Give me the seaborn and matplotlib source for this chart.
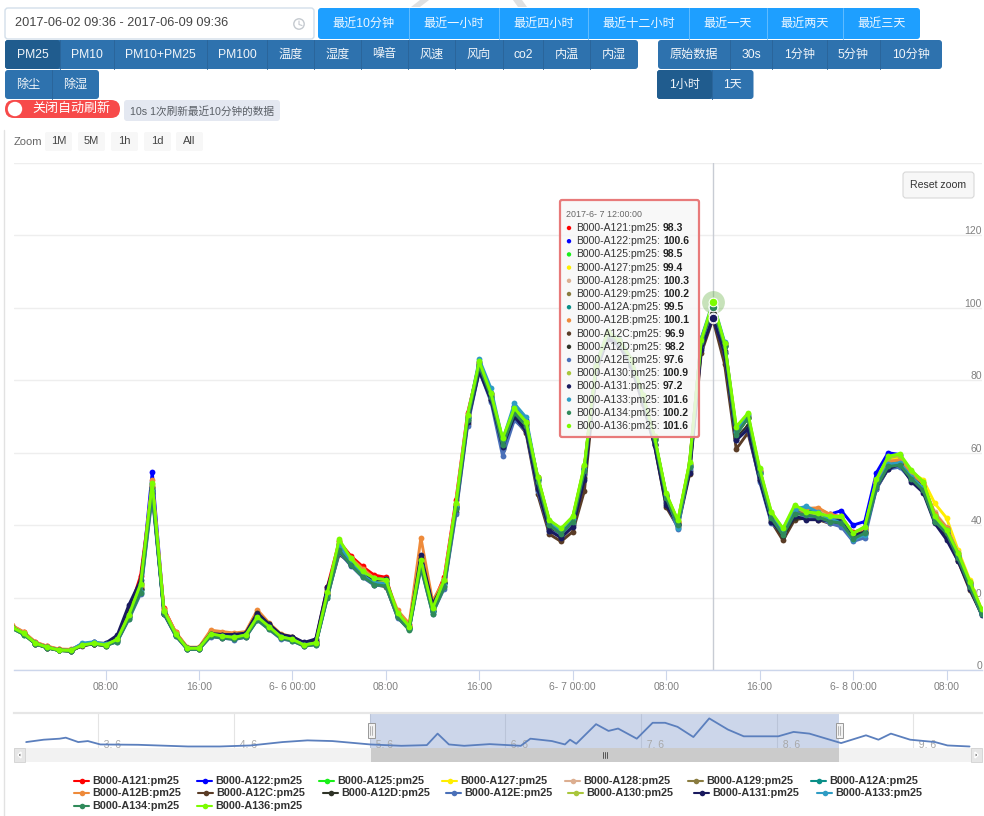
import numpy as np
import pandas as pd
import seaborn as sns
import matplotlib
matplotlib.use("Agg")
import matplotlib.pyplot as plt
from matplotlib.patches import FancyBboxPatch, Rectangle, Circle, Polygon
from matplotlib.lines import Line2D
from matplotlib.transforms import ScaledTranslation

# ------------------------- data -------------------------
A121 = [12.2,10.4,7.6,6.5,5.7,5.6,7.0,7.3,7.2,9.0,16.0,26.0,50.5,17.0,10.4,6.2,6.2,10.4,9.8,9.4,9.9,15.2,12.4,9.5,8.8,7.2,8.0,23.0,35.5,31.5,28.6,26.2,25.6,15.2,12.4,31.5,18.0,25.8,47.0,71.0,84.5,76.0,63.0,71.5,68.0,53.0,40.6,38.0,41.2,56.0,83.5,92.5,90.0,85.0,75.0,64.0,48.0,40.8,56.5,90.0,98.3,89.5,65.5,69.5,55.0,43.0,38.2,43.5,44.5,43.0,42.0,41.5,38.0,39.0,51.0,57.0,57.5,54.5,51.5,42.5,38.5,31.5,24.0,16.5]
A122 = [11.6,10.0,7.5,6.4,5.6,5.5,7.2,7.6,7.0,8.6,15.5,22.5,54.8,16.2,9.8,6.0,6.0,9.6,9.2,8.8,9.5,14.4,11.8,9.0,8.4,7.0,7.4,21.0,34.0,30.0,26.8,24.8,24.2,15.0,11.8,29.5,16.2,24.0,45.0,70.0,85.0,76.5,62.5,73.0,69.0,52.5,40.0,38.0,41.5,55.5,84.0,93.0,91.0,85.5,75.5,64.0,48.0,40.0,56.0,91.5,100.6,90.0,65.0,70.0,54.5,42.5,38.0,44.0,44.0,43.2,43.0,44.0,40.0,41.0,54.5,60.0,59.5,54.0,50.5,42.0,38.0,31.5,24.0,16.2]
A125 = [11.5,9.8,7.2,6.1,5.4,5.2,6.8,7.2,6.7,8.0,14.5,22.0,50.0,15.8,9.6,5.8,5.8,9.6,9.0,8.8,9.4,14.0,11.6,9.0,8.2,6.8,7.2,20.5,34.5,29.8,26.5,24.4,24.0,15.0,11.6,29.0,16.4,24.0,45.5,69.5,84.0,75.5,62.5,71.5,68.0,52.5,40.5,38.2,41.5,55.5,83.0,92.0,90.0,84.5,75.0,63.5,48.0,40.5,56.5,89.5,98.5,89.5,65.5,69.5,54.5,42.5,38.0,43.5,43.0,42.5,41.5,41.5,37.0,38.5,51.5,57.5,58.0,53.5,49.5,41.0,38.0,31.5,23.5,15.8]
A127 = [11.9,10.2,7.4,6.3,5.6,5.4,7.0,7.4,6.9,8.4,15.0,23.0,50.8,16.3,10.0,6.1,6.1,10.0,9.4,9.0,9.6,14.6,12.0,9.3,8.5,6.9,7.5,21.2,35.0,30.5,27.0,25.0,24.6,15.4,12.0,30.0,16.8,24.6,45.8,70.0,84.5,76.0,63.0,71.5,68.2,53.0,41.0,38.6,42.0,56.0,84.0,92.5,90.5,85.0,75.5,64.0,48.5,41.0,57.0,90.5,99.4,90.0,66.0,70.0,55.0,43.2,38.8,44.5,44.0,43.5,42.5,42.0,37.5,39.0,52.0,58.0,58.5,54.5,52.5,46.0,42.0,33.0,24.8,16.8]
A128 = [12.0,10.3,7.5,6.4,5.6,5.5,6.9,7.5,7.0,8.6,15.4,23.5,51.0,16.6,10.2,6.1,6.1,10.3,9.7,9.2,9.8,15.0,12.2,9.4,8.6,7.0,7.6,21.4,34.8,30.6,27.4,25.4,25.0,15.4,12.1,30.5,17.2,24.8,45.8,70.5,84.8,76.2,63.2,72.0,68.4,53.2,41.0,38.4,41.8,56.0,84.5,93.0,91.0,85.5,75.5,64.0,48.4,41.0,57.0,91.0,100.3,90.0,66.0,70.0,55.0,43.0,38.0,44.5,44.5,44.5,43.0,42.0,37.5,38.8,51.5,57.5,58.0,54.5,51.0,43.5,39.5,32.5,24.2,16.5]
A129 = [11.7,10.0,7.3,6.2,5.5,5.3,6.8,7.3,6.8,8.4,15.0,23.0,50.5,16.0,9.9,6.0,6.0,9.8,9.2,8.9,9.5,14.5,11.8,9.1,8.4,6.9,7.4,21.0,34.0,30.0,26.8,24.8,24.4,15.2,11.8,29.8,16.8,24.2,45.2,69.8,84.2,75.6,62.8,71.2,67.8,52.6,40.4,38.0,41.4,55.4,83.5,92.5,90.5,85.0,75.0,63.8,48.0,40.6,56.4,90.8,100.2,89.8,65.5,69.5,54.8,42.6,37.6,43.5,43.5,43.0,42.2,41.8,37.2,38.6,51.4,57.0,57.6,54.0,51.2,43.0,39.2,32.0,24.0,16.2]
A12A = [11.8,10.1,7.4,6.3,5.5,5.4,7.1,7.5,6.9,8.3,14.8,22.4,50.2,16.1,9.9,5.9,5.9,9.8,9.3,8.9,9.5,14.3,11.8,9.1,8.3,6.8,7.3,20.8,34.8,29.8,26.4,24.2,24.0,15.0,11.6,29.2,16.4,24.0,45.0,69.6,84.6,76.2,62.6,72.6,68.6,52.8,40.6,38.2,41.6,55.8,84.0,92.8,90.6,85.2,75.2,63.8,48.2,40.2,56.2,90.4,99.5,89.6,65.2,69.8,54.6,42.4,37.8,44.0,44.5,43.2,42.0,41.2,36.6,38.2,51.0,56.6,57.0,53.4,50.6,42.4,38.6,31.6,23.6,15.8]
A12B = [12.3,10.5,7.7,6.6,5.8,5.7,7.0,7.6,7.3,8.8,15.6,23.4,52.5,16.8,10.5,6.3,6.3,11.0,10.6,10.2,10.6,16.6,13.0,10.0,9.2,7.4,7.8,21.8,34.8,31.0,28.0,25.4,24.8,16.5,12.8,36.5,19.0,25.0,45.5,70.2,84.8,76.2,63.2,72.2,68.6,53.2,41.0,38.6,42.0,56.2,84.4,93.0,91.0,85.5,75.5,64.0,48.4,41.0,57.0,91.2,100.1,90.2,66.0,70.2,55.0,43.0,38.4,45.0,44.6,44.8,43.0,42.4,37.6,39.0,52.0,57.6,58.0,54.4,51.4,43.0,39.2,32.2,24.2,16.4]
A12C = [11.6,9.9,7.2,6.1,5.4,5.2,6.7,7.2,6.6,8.2,14.6,22.4,49.8,15.8,9.6,5.8,5.7,9.4,8.9,8.6,9.2,14.2,11.6,8.8,8.2,6.6,7.2,20.6,32.0,29.4,26.0,23.6,23.0,14.6,11.2,29.4,16.2,23.2,43.5,68.0,83.0,74.5,61.0,69.5,65.5,48.5,37.5,35.5,38.2,49.5,82.5,92.0,89.5,84.0,73.5,62.0,45.0,39.5,54.0,87.5,96.9,84.5,61.0,65.5,52.5,41.0,35.8,41.5,42.0,41.5,40.5,40.5,36.8,37.5,50.0,55.5,56.5,52.5,50.0,41.5,37.0,30.0,22.0,15.5]
A12D = [11.7,10.0,7.3,6.2,5.4,5.3,6.8,7.2,7.3,9.0,16.5,24.0,49.0,15.6,9.8,6.0,6.0,10.0,9.8,9.6,10.0,15.8,12.6,9.8,9.0,7.2,8.0,22.5,33.5,29.5,26.8,25.2,25.0,15.2,11.8,31.0,17.8,24.2,45.0,69.0,83.0,74.8,61.5,70.0,66.5,50.5,39.0,36.8,40.0,53.0,83.0,92.0,90.0,84.5,74.5,62.5,46.0,40.0,55.0,89.0,98.2,88.0,64.0,67.5,53.0,41.5,37.0,42.0,42.0,41.8,41.0,40.8,37.5,38.0,51.0,56.0,57.0,53.0,50.5,41.0,36.5,30.5,22.8,15.8]
A12E = [11.5,9.9,7.3,6.2,5.4,5.3,7.2,7.6,6.8,7.8,14.0,21.0,48.0,15.4,9.4,5.7,5.7,9.2,8.8,8.4,9.0,13.8,11.2,8.6,8.0,6.6,7.0,20.0,32.5,28.8,25.6,23.4,23.2,14.4,11.2,28.5,15.6,22.5,43.0,67.5,82.5,74.0,59.0,69.0,66.0,49.5,38.5,37.0,40.5,54.0,83.0,91.5,89.5,84.0,74.0,62.5,46.5,39.0,55.5,89.5,97.6,87.5,63.5,66.5,52.0,40.5,38.0,44.0,42.0,42.0,40.5,39.5,35.5,36.5,50.0,55.5,56.0,52.5,49.5,41.0,38.0,31.0,23.0,15.5]
A130 = [12.0,10.2,7.4,6.3,5.6,5.4,6.9,7.4,6.9,8.5,15.2,23.6,51.4,16.4,10.0,6.0,6.0,10.0,9.4,9.0,9.7,14.8,12.0,9.2,8.5,6.9,7.5,21.4,35.6,30.6,27.0,25.0,24.6,15.6,12.0,30.4,17.0,24.6,45.8,70.2,85.0,76.2,63.8,72.0,68.4,53.2,41.2,39.0,42.2,56.4,84.5,93.2,91.0,85.5,75.8,64.2,48.6,41.2,57.2,91.2,100.9,90.2,67.0,70.6,55.5,43.5,39.0,45.0,43.5,43.0,42.2,42.2,37.6,39.4,52.4,58.6,59.2,55.0,51.8,42.2,38.5,32.0,24.2,16.6]
A131 = [11.8,10.0,7.4,6.3,5.5,5.4,6.8,7.3,7.4,9.6,18.0,24.8,49.5,15.6,9.8,6.1,6.1,10.0,9.8,9.8,10.2,15.6,12.6,9.8,9.2,7.6,8.6,23.0,33.0,29.0,26.4,25.0,25.0,15.0,11.6,31.8,18.2,24.0,44.5,68.5,82.5,74.5,61.5,70.0,66.0,50.0,38.5,36.5,39.5,52.5,82.5,91.5,89.5,84.0,74.0,62.0,45.5,40.2,54.5,88.5,97.2,87.5,63.5,66.5,52.5,41.0,37.5,42.5,41.5,41.5,41.2,41.2,37.2,37.8,50.5,55.5,56.8,52.0,49.0,40.5,36.0,30.0,22.5,15.2]
A133 = [11.6,10.0,7.4,6.3,5.5,5.4,7.4,7.8,7.2,8.2,14.6,21.6,49.5,16.0,9.8,6.0,6.0,9.8,9.4,9.0,9.6,14.2,11.8,9.2,8.4,7.0,7.4,20.4,34.5,29.6,26.2,24.0,23.8,14.8,11.4,28.8,16.0,23.5,45.0,70.0,85.8,77.8,63.5,73.6,69.8,53.0,40.6,38.4,41.8,55.6,84.5,93.5,91.5,86.0,76.0,64.2,48.4,39.2,56.6,91.6,101.6,90.6,65.8,70.4,54.4,42.2,38.2,44.4,45.2,43.6,41.8,40.6,35.8,37.4,50.8,56.8,57.2,53.2,50.2,42.0,38.6,31.6,23.4,15.4]
A134 = [11.5,9.8,7.2,6.1,5.4,5.2,6.9,7.2,6.7,7.8,14.2,21.4,48.8,15.6,9.5,5.7,5.7,9.3,8.8,8.5,9.1,13.8,11.2,8.8,8.0,6.6,7.0,20.0,33.0,29.0,25.8,23.6,23.2,14.6,11.0,28.2,15.6,22.8,44.5,69.0,84.0,75.5,62.0,71.0,67.5,52.0,40.0,37.6,41.0,55.0,83.5,92.5,90.5,85.0,75.0,63.5,47.5,40.0,56.0,90.5,100.2,89.5,65.0,69.5,54.2,42.0,37.2,43.2,42.8,42.2,41.0,40.6,36.2,37.8,50.5,56.2,56.6,52.8,49.6,41.0,37.8,30.8,23.0,15.4]
A136 = [11.8,10.1,7.4,6.3,5.5,5.4,6.9,7.4,6.9,8.5,15.2,23.8,51.6,16.4,10.0,6.0,6.0,10.0,9.4,9.0,9.7,14.7,12.0,9.2,8.5,6.9,7.5,21.5,36.1,30.8,27.2,25.3,24.9,15.8,12.0,30.4,17.0,24.9,46.0,70.4,85.2,76.4,64.0,72.3,68.6,53.4,41.4,39.1,42.4,56.6,84.0,93.5,91.0,86.0,76.0,64.5,48.8,41.3,57.3,91.0,101.6,90.2,67.2,70.9,55.7,43.7,39.1,45.6,43.7,43.3,42.4,42.4,37.8,39.6,52.7,59.0,59.7,55.2,52.0,42.4,38.7,32.2,24.4,16.8]

series_ids = ["A121","A122","A125","A127","A128","A129","A12A","A12B","A12C","A12D","A12E","A130","A131","A133","A134","A136"]
series_values = [A121,A122,A125,A127,A128,A129,A12A,A12B,A12C,A12D,A12E,A130,A131,A133,A134,A136]
series_colors = ["#ff0000","#0000ff","#18f018","#ffee00","#dcae90","#8a7c40","#0a8f88","#ee8a3a","#5a3c26","#2f3327","#4a70b8","#a9c63c","#191a5e","#2e9cc4","#2f8a5a","#7cfc00"]
tooltip_values = ["98.3","100.6","98.5","99.4","100.3","100.2","99.5","100.1","96.9","98.2","97.6","100.9","97.2","101.6","100.2","101.6"]
x_tick_hours = [8,16,24,32,40,48,56,64,72,80]
x_tick_labels = ["08:00","16:00","6- 6 00:00","08:00","16:00","6- 7 00:00","08:00","16:00","6- 8 00:00","08:00"]
y_ticks = [0,20,40,60,80,100,120,140]

nav_hours = [11.3,14.4,17.2,18.3,20.5,22.2,24.4,31.1,39.9,45.5,51,56.6,61,65.4,72.1,77.6,82.1,84,86,88.7,93.2,98.7,100.4,104.2,106.5,107.4,108.5,112,114.2,115.9,119.2,122,124.2,126.4,129.2,132,135.3,138.1,144.2,146.9,149.7,155.3,159.7,161.9,164.1,167.5,171.9,174.1,178]
nav_values = [20,28,31.4,34.8,20,23.4,12,10.8,5.1,5.1,8.6,20,25.7,23.4,12,7.4,9.7,48.5,12,7.4,13.1,7.4,31.4,23.4,12,28,14.3,80.4,57.6,65.6,31.4,85,85,71.3,37,99.8,62.2,39.4,39.4,54.2,48.5,16.6,42.8,28,48.5,28,20,8.6,5.1]
nav_tick_hours = [24,48,72,96,120,144,168]
nav_tick_labels = ["3. 6","4. 6","5. 6","6. 6","7. 6","8. 6","9. 6"]

row1_labels = ["最近10分钟","最近一小时","最近四小时","最近十二小时","最近一天","最近两天","最近三天"]
row1_edges = [318,409,499,588,689,766.5,843,920]
row2_labels = ["PM25","PM10","PM10+PM25","PM100","温度","湿度","噪音","风速","风向","co2","内温","内湿"]
row2_edges = [5,60,114,207,267,314,361,408,455,503,543,590,638]
row3_labels = ["除尘","除湿"]
row3_edges = [5,52,99]
row4_labels = ["原始数据","30s","1分钟","5分钟","10分钟"]
row4_edges = [658,730,772,827,880,942]
row5_labels = ["1小时","1天"]
row5_edges = [657,712,753.5]
zoom_labels = ["1M","5M","1h","1d","All"]
zoom_edges = [(45,72),(78,105),(111,138),(144,171),(176,203)]

legend_rows = [(781,[92,215,337,460,583,706,829],series_ids[:7]),
               (793,[92,216,341,464,586,712,835],series_ids[7:14]),
               (806,[92,215],series_ids[14:])]

# ------------------------- figure -------------------------
sns.set_theme(style="white")
plt.rcParams['font.family'] = ['Liberation Sans','Noto Sans CJK SC','DejaVu Sans']
W,H = 984,816
fig = plt.figure(figsize=(W/100,H/100),dpi=100,facecolor='white')

def axes_px(x0,y0,x1,y1,**kw):
    return fig.add_axes([x0/W,1-y1/H,(x1-x0)/W,(y1-y0)/H],**kw)

# main chart
ax = axes_px(14,163,982,670)
df = pd.DataFrame([{"hour":h,"pm25":v,"series":s}
                   for s,vals in zip(series_ids,series_values) for h,v in enumerate(vals)])
ax.axvline(60,color="#c8ccd4",lw=1,zorder=1)
sns.lineplot(data=df,x="hour",y="pm25",hue="series",hue_order=series_ids,
             palette=dict(zip(series_ids,series_colors)),marker="o",markersize=4.2,
             markeredgewidth=0,linewidth=2.1,legend=False,errorbar=None,ax=ax,zorder=3)
for line in ax.get_lines():
    line.set_solid_joinstyle("round")
for s,vals,c in zip(series_ids,series_values,series_colors):
    if s == "A136":
        ax.scatter([60],[vals[60]],s=270,color="#5fae3a",alpha=0.35,linewidths=0,zorder=5)
    ax.scatter([60],[vals[60]],s=38,color=c,edgecolors="white",linewidths=0.7,zorder=6)
ax.set_xlim((14-12.1)/11.68,(982-12.1)/11.68)
ax.set_ylim(0,140)
ax.set_xlabel(""); ax.set_ylabel("")
ax.set_xticks(x_tick_hours); ax.set_xticklabels(x_tick_labels)
ax.set_yticks(y_ticks)
ax.set_yticklabels(["0","20","40","60","80","100","120",""])
ax.grid(True,axis='y',color="#eeeeee",lw=1)
ax.grid(False,axis='x')
ax.set_axisbelow(True)
for sp in ("top","left","right"):
    ax.spines[sp].set_visible(False)
ax.spines["bottom"].set_color("#ccd6eb"); ax.spines["bottom"].set_linewidth(1)
ax.tick_params(axis='x',length=7,width=0.8,color="#ccd6eb",labelsize=7.5,labelcolor="#808080",pad=2,direction="out",bottom=True)
ax.yaxis.tick_right()
ax.tick_params(axis='y',length=0,labelsize=7.5,labelcolor="#808080",pad=0)
off = ScaledTranslation(0,5/100,fig.dpi_scale_trans)
for lb in ax.get_yticklabels():
    lb.set_ha("right"); lb.set_transform(lb.get_transform()+off)

# navigator
nav = axes_px(14,713,982,748)
nav.patch.set_alpha(0)
for h in nav_tick_hours:
    nav.axvline(h,color="#e4e4e4",lw=0.8,zorder=1)
sns.lineplot(x=nav_hours,y=nav_values,color="#5b7fbd",linewidth=1.3,ax=nav,zorder=3,errorbar=None,sort=False)
nav.axvspan(72,155,color="#6685c2",alpha=0.33,lw=0,zorder=2)
nav.set_xlim(9.15,180.2); nav.set_ylim(0,118)
nav.set_xticks([]); nav.set_yticks([])
for sp in nav.spines.values(): sp.set_visible(False)
nav.spines["top"].set_visible(True); nav.spines["top"].set_color("#e6e6e6"); nav.spines["top"].set_linewidth(1.6)
for h,t in zip(nav_tick_hours,nav_tick_labels):
    nav.text(h,11,"  "+t,fontsize=7.5,color="#a8a8a8",va="center",ha="left",zorder=2)

# overlay in pixel coordinates
ui = fig.add_axes([0,0,1,1],zorder=10)
ui.set_xlim(0,W); ui.set_ylim(H,0); ui.axis("off"); ui.patch.set_alpha(0)

def rbox(x0,y0,x1,y1,fc,ec="none",r=3,lw=0.8,alpha=None,z=2):
    p = FancyBboxPatch((x0,y0),x1-x0,y1-y0,boxstyle=f"round,pad=0,rounding_size={r}",
                       fc=fc,ec=ec,lw=lw,alpha=alpha,zorder=z)
    ui.add_patch(p); return p

def group(edges,labels,y0,y1,fc,div,active=None,activefc="#205c8e",size=8.7,tc="#f2f6fa"):
    rbox(edges[0],y0,edges[-1],y1,fc,r=3)
    if active is not None:
        rbox(edges[active],y0,edges[active+1],y1,activefc,r=3,z=2.2)
    for e in edges[1:-1]:
        ui.plot([e,e],[y0,y1],color=div,lw=0.7,zorder=2.5)
    for i,l in enumerate(labels):
        ui.text((edges[i]+edges[i+1])/2,(y0+y1)/2,l,ha="center",va="center",fontsize=size,color=tc,zorder=3)

# stray background strokes at the page top
ui.add_patch(Polygon([(420,0),(429,0),(420,7),(411,7)],fc="#e0e0e0",ec="none",zorder=1))
ui.add_patch(Polygon([(513,0),(522,0),(527,7),(518,7)],fc="#e0e0e0",ec="none",zorder=1))

rbox(5,8,314,39,"white",ec="#d3dfea",r=3,lw=1)
ui.text(15,23,"2017-06-02 09:36 - 2017-06-09 09:36",fontsize=9.2,color="#454545",ha="left",va="center")
ui.add_patch(Circle((299,24),5.2,fc="white",ec="#c4c9cf",lw=1,zorder=3))
ui.plot([299,299,302],[21,24.5,25.5],color="#c4c9cf",lw=0.8,zorder=3.1)

group(row1_edges,row1_labels,8,39,"#1e9fff","#62bcff",tc="#eef7ff")
group(row2_edges,row2_labels,40,69,"#2e72ae","#2a659b",active=0)
group(row3_edges,row3_labels,70,99,"#2e72ae","#2a659b")
group(row4_edges,row4_labels,40,69,"#2e72ae","#2a659b")
group(row5_edges,row5_labels,70,99,"#2e72ae","#2a659b",active=0)

rbox(5,100,120,118,"#f74a4a",r=9)
ui.add_patch(Circle((15,109),7.2,fc="white",ec="none",zorder=3))
ui.text(71,109,"关闭自动刷新",fontsize=9.4,color="white",ha="center",va="center",zorder=3)
rbox(124,100,280,121,"#e4e8f1",r=3)
ui.text(130,111,"10s 1次刷新最近10分钟的数据",fontsize=7.7,color="#5a5f66",ha="left",va="center",zorder=3)

ui.text(14,142,"Zoom",fontsize=8,color="#666666",ha="left",va="center")
for (a,b),l in zip(zoom_edges,zoom_labels):
    rbox(a,132,b,151,"#f7f7f7",r=2)
    ui.text((a+b)/2,141.5,l,fontsize=8,color="#444444",ha="center",va="center",zorder=3)
rbox(903,172,974,198,"#f7f7f7",ec="#d8d8d8",r=3,lw=0.8)
ui.text(938.5,185.5,"Reset zoom",fontsize=7.6,color="#333333",ha="center",va="center",zorder=3)

# page edge
ui.plot([3.5,3.5],[130,816],color="#e2e2e2",lw=1,zorder=1)

# tooltip
rbox(560,200,699,437,(0.97,0.97,0.97,0.86),ec="#e87a7a",r=2,lw=1.6,z=4)
ui.text(566,214.5,"2017-6- 7 12:00:00",fontsize=6.4,color="#666666",ha="left",va="center",zorder=5)
rend = fig.canvas.get_renderer()
for i,(s,v,c) in enumerate(zip(series_ids,tooltip_values,series_colors)):
    y = 228+i*13.2
    ui.add_patch(Circle((569,y),2.2,fc=c,ec="none",zorder=5))
    t = ui.text(576,y,f"B000-{s}:pm25:",fontsize=7.5,color="#333333",ha="left",va="center",zorder=5)
    bb = t.get_window_extent(rend)
    ui.text(bb.x1+3,y,v,fontsize=7.5,fontweight="bold",color="#222222",ha="left",va="center",zorder=5)

# navigator handles and scrollbar
ui.add_patch(Rectangle((14,748),968,14,fc="#f2f2f2",ec="none",zorder=2))
ui.add_patch(Rectangle((371,748),468,14,fc="#cbcbcb",ec="none",zorder=2.2))
ui.add_patch(Rectangle((14,748),11,14,fc="#e6e6e6",ec="#cccccc",lw=0.5,zorder=2.3))
ui.add_patch(Rectangle((971,748),11,14,fc="#e6e6e6",ec="#cccccc",lw=0.5,zorder=2.3))
ui.add_patch(Polygon([(21,752),(21,758),(18,755)],fc="#333333",zorder=3))
ui.add_patch(Polygon([(975,752),(975,758),(978,755)],fc="#333333",zorder=3))
for dx in (-2,0,2):
    ui.plot([605+dx,605+dx],[752,758],color="#555555",lw=0.7,zorder=3)
for xh in (371,839):
    ui.add_patch(Rectangle((xh-3.5,723),7,15,fc="#f2f2f2",ec="#999999",lw=0.7,zorder=4))
    for dx in (-1,1):
        ui.plot([xh+dx,xh+dx],[726,735],color="#999999",lw=0.5,zorder=4.1)

# legend
for y,xs,ids in legend_rows:
    for x,s in zip(xs,ids):
        c = series_colors[series_ids.index(s)]
        ui.add_line(Line2D([x-18,x-3],[y,y],color=c,lw=1.5,zorder=3))
        ui.add_line(Line2D([x-10.5],[y],marker="o",ms=4,color=c,mew=0,zorder=3))
        ui.text(x,y,f"B000-{s}:pm25",fontsize=7.8,fontweight="bold",color="#333333",ha="left",va="center",zorder=3)

fig.savefig("out.png",dpi=100)
